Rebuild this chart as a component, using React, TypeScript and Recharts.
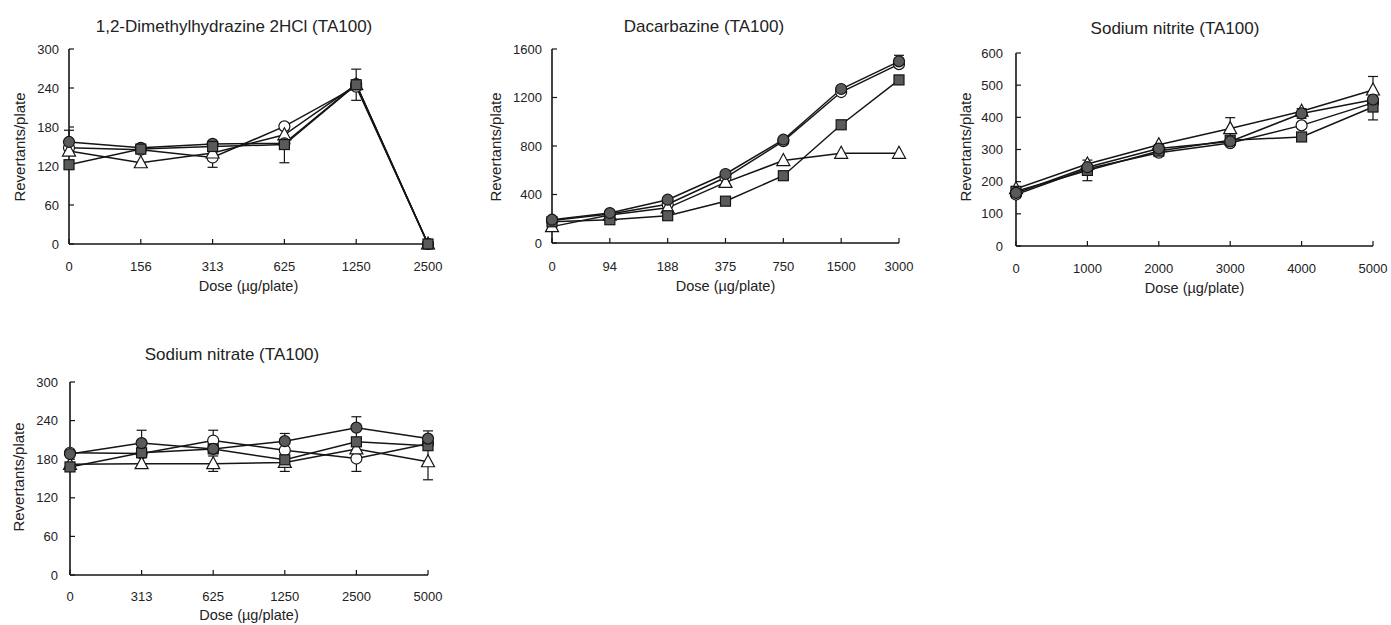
import { LineChart, Line, XAxis, YAxis, ErrorBar } from "recharts";

const FONT = '"Liberation Sans", Arial, Helvetica, sans-serif';
const INK = "#151515";
const FILL = "#5a5a5a";

// 1,2-Dimethylhydrazine 2HCl
const dmhDoses = ["0", "156", "313", "625", "1250", "2500"];
const dmhOpenCircle = [148, 145, 133, 181, 242, 0];
const dmhFilledCircle = [157, 148, 154, 155, 246, 0];
const dmhOpenTriangle = [143, 125, 140, 168, 245, 0];
const dmhFilledSquare = [122, 146, 150, 153, 245, 0];
const dmhOpenCircleErr = [0, 0, 15, 0, 0, 0];
const dmhFilledCircleErr = [18, 0, 0, 0, 0, 0];
const dmhOpenTriangleErr = [0, 0, 0, 0, 0, 0];
const dmhFilledSquareErr = [0, 0, 0, 28, 24, 0];

// Dacarbazine
const dacDoses = ["0", "94", "188", "375", "750", "1500", "3000"];
const dacOpenCircle = [185, 240, 320, 540, 840, 1245, 1475];
const dacFilledCircle = [192, 247, 357, 569, 852, 1270, 1498];
const dacOpenTriangle = [135, 230, 290, 500, 680, 740, 740];
const dacFilledSquare = [175, 192, 225, 345, 555, 975, 1345];
const dacOpenCircleErr = [0, 0, 0, 0, 0, 0, 0];
const dacFilledCircleErr = [0, 0, 0, 0, 0, 0, 50];
const dacOpenTriangleErr = [0, 0, 0, 0, 0, 0, 0];
const dacFilledSquareErr = [0, 0, 0, 0, 0, 0, 0];

// Sodium nitrite
const nitDoses = ["0", "1000", "2000", "3000", "4000", "5000"];
const nitOpenCircle = [160, 240, 290, 320, 375, 445];
const nitFilledCircle = [165, 245, 303, 325, 412, 455];
const nitOpenTriangle = [178, 255, 315, 365, 419, 485];
const nitFilledSquare = [170, 235, 295, 329, 339, 432];
const nitOpenCircleErr = [0, 0, 0, 0, 0, 0];
const nitFilledCircleErr = [15, 0, 12, 0, 15, 0];
const nitOpenTriangleErr = [0, 0, 0, 34, 0, 42];
const nitFilledSquareErr = [0, 32, 0, 0, 0, 40];

// Sodium nitrate
const natDoses = ["0", "313", "625", "1250", "2500", "5000"];
const natOpenCircle = [190, 189, 209, 194, 181, 204];
const natFilledCircle = [188, 205, 196, 208, 229, 212];
const natOpenTriangle = [172, 173, 173, 175, 196, 176];
const natFilledSquare = [168, 190, 196, 179, 207, 201];
const natOpenCircleErr = [0, 0, 16, 0, 20, 0];
const natFilledCircleErr = [0, 20, 0, 12, 17, 12];
const natOpenTriangleErr = [0, 0, 12, 0, 0, 28];
const natFilledSquareErr = [0, 0, 0, 18, 0, 0];

type Shape = "oc" | "fc" | "ot" | "fs";

const renderDot = (shape: Shape) => (props: any) => {
  const { cx, cy, index } = props;
  const key = `${shape}-${index}`;
  if (cx == null || cy == null) return <g key={key} />;
  if (shape === "oc" || shape === "fc") {
    return <circle key={key} cx={cx} cy={cy} r={5.5} fill={shape === "oc" ? "#fff" : FILL} stroke={INK} strokeWidth={1.2} />;
  }
  if (shape === "ot") {
    const pts = `${cx},${cy - 7} ${cx - 6.5},${cy + 5} ${cx + 6.5},${cy + 5}`;
    return <polygon key={key} points={pts} fill="#fff" stroke={INK} strokeWidth={1.2} />;
  }
  return <rect key={key} x={cx - 5} y={cy - 5} width={10} height={10} fill={FILL} stroke={INK} strokeWidth={1.2} />;
};

type PanelProps = {
  title: string;
  doses: string[];
  series: { shape: Shape; values: number[]; errors: number[] }[];
  yMax: number;
  yTicks: number[];
  left: number;
  top: number;
  width: number;
  height: number;
  plotTop: number;
  plotRight: number;
  axisWidth: number;
  xAxisHeight: number;
  yTickMargin: number;
  xTickMargin: number;
  xLabelOffset: number;
  titleX: number;
  titleY: number;
  yLabelX: number;
  yLabelY: number;
};

const Panel = (p: PanelProps) => {
  const data = p.doses.map((dose, i) => {
    const row: any = { dose };
    p.series.forEach((s) => {
      row[s.shape] = s.values[i];
      row[s.shape + "Err"] = s.errors[i];
    });
    return row;
  });

  return (
    <div style={{ position: "absolute", left: p.left, top: p.top, width: p.width, height: p.height }}>
      <div
        style={{
          position: "absolute",
          left: p.titleX,
          top: p.titleY,
          transform: "translate(-50%, -50%)",
          fontFamily: FONT,
          fontSize: 17,
          color: "#222",
          whiteSpace: "nowrap",
        }}
      >
        {p.title}
      </div>
      <div
        style={{
          position: "absolute",
          left: p.yLabelX,
          top: p.yLabelY,
          transform: "translate(-50%, -50%) rotate(-90deg)",
          fontFamily: FONT,
          fontSize: 15,
          color: "#222",
          whiteSpace: "nowrap",
        }}
      >
        Revertants/plate
      </div>
      <LineChart
        width={p.width}
        height={p.height}
        data={data}
        margin={{ top: p.plotTop, right: p.plotRight, bottom: 0, left: 0 }}
      >
        <XAxis
          dataKey="dose"
          interval={0}
          height={p.xAxisHeight}
          tickSize={-5}
          tickMargin={p.xTickMargin}
          axisLine={{ stroke: INK, strokeWidth: 1.6 }}
          tickLine={{ stroke: INK, strokeWidth: 1.2 }}
          tick={{ fontSize: 13, fill: "#222", fontFamily: FONT }}
          label={{
            value: "Dose (µg/plate)",
            position: "insideBottom",
            offset: p.xLabelOffset,
            fontSize: 14.5,
            fill: "#222",
            fontFamily: FONT,
          }}
        />
        <YAxis
          type="number"
          domain={[0, p.yMax]}
          ticks={p.yTicks}
          interval={0}
          width={p.axisWidth}
          tickSize={-5}
          tickMargin={p.yTickMargin}
          axisLine={{ stroke: INK, strokeWidth: 1.6 }}
          tickLine={{ stroke: INK, strokeWidth: 1.2 }}
          tick={{ fontSize: 13, fill: "#222", fontFamily: FONT }}
        />
        {p.series.map((s) => (
          <Line
            key={s.shape}
            type="linear"
            dataKey={s.shape}
            stroke={INK}
            strokeWidth={1.5}
            dot={renderDot(s.shape)}
            isAnimationActive={false}
          >
            <ErrorBar dataKey={s.shape + "Err"} direction="y" width={5} stroke={INK} strokeWidth={1.2} />
          </Line>
        ))}
      </LineChart>
    </div>
  );
};

const App = () => {
  return (
    <div style={{ position: "absolute", left: 0, top: 0, width: 1391, height: 625, background: "#fff", overflow: "hidden" }}>
      <Panel
        title="1,2-Dimethylhydrazine 2HCl (TA100)"
        doses={dmhDoses}
        series={[
          { shape: "oc", values: dmhOpenCircle, errors: dmhOpenCircleErr },
          { shape: "ot", values: dmhOpenTriangle, errors: dmhOpenTriangleErr },
          { shape: "fc", values: dmhFilledCircle, errors: dmhFilledCircleErr },
          { shape: "fs", values: dmhFilledSquare, errors: dmhFilledSquareErr },
        ]}
        yMax={300}
        yTicks={[0, 60, 120, 180, 240, 300]}
        left={0}
        top={0}
        width={460}
        height={300}
        plotTop={49}
        plotRight={32}
        axisWidth={69}
        xAxisHeight={56}
        yTickMargin={15}
        xTickMargin={23}
        xLabelOffset={9}
        titleX={234}
        titleY={27}
        yLabelX={19}
        yLabelY={147}
      />
      <Panel
        title="Dacarbazine (TA100)"
        doses={dacDoses}
        series={[
          { shape: "oc", values: dacOpenCircle, errors: dacOpenCircleErr },
          { shape: "ot", values: dacOpenTriangle, errors: dacOpenTriangleErr },
          { shape: "fs", values: dacFilledSquare, errors: dacFilledSquareErr },
          { shape: "fc", values: dacFilledCircle, errors: dacFilledCircleErr },
        ]}
        yMax={1600}
        yTicks={[0, 400, 800, 1200, 1600]}
        left={470}
        top={0}
        width={460}
        height={300}
        plotTop={49}
        plotRight={31}
        axisWidth={82}
        xAxisHeight={57}
        yTickMargin={15}
        xTickMargin={24}
        xLabelOffset={9}
        titleX={234}
        titleY={27}
        yLabelX={25}
        yLabelY={147}
      />
      <Panel
        title="Sodium nitrite (TA100)"
        doses={nitDoses}
        series={[
          { shape: "oc", values: nitOpenCircle, errors: nitOpenCircleErr },
          { shape: "ot", values: nitOpenTriangle, errors: nitOpenTriangleErr },
          { shape: "fs", values: nitFilledSquare, errors: nitFilledSquareErr },
          { shape: "fc", values: nitFilledCircle, errors: nitFilledCircleErr },
        ]}
        yMax={600}
        yTicks={[0, 100, 200, 300, 400, 500, 600]}
        left={930}
        top={0}
        width={461}
        height={300}
        plotTop={53}
        plotRight={18}
        axisWidth={86}
        xAxisHeight={54}
        yTickMargin={18}
        xTickMargin={23}
        xLabelOffset={7}
        titleX={245}
        titleY={29}
        yLabelX={35}
        yLabelY={147}
      />
      <Panel
        title="Sodium nitrate (TA100)"
        doses={natDoses}
        series={[
          { shape: "oc", values: natOpenCircle, errors: natOpenCircleErr },
          { shape: "ot", values: natOpenTriangle, errors: natOpenTriangleErr },
          { shape: "fs", values: natFilledSquare, errors: natFilledSquareErr },
          { shape: "fc", values: natFilledCircle, errors: natFilledCircleErr },
        ]}
        yMax={300}
        yTicks={[0, 60, 120, 180, 240, 300]}
        left={0}
        top={320}
        width={460}
        height={305}
        plotTop={62}
        plotRight={32}
        axisWidth={70}
        xAxisHeight={50}
        yTickMargin={17}
        xTickMargin={22}
        xLabelOffset={5}
        titleX={232}
        titleY={35}
        yLabelX={18}
        yLabelY={157}
      />
    </div>
  );
};

export default App;
